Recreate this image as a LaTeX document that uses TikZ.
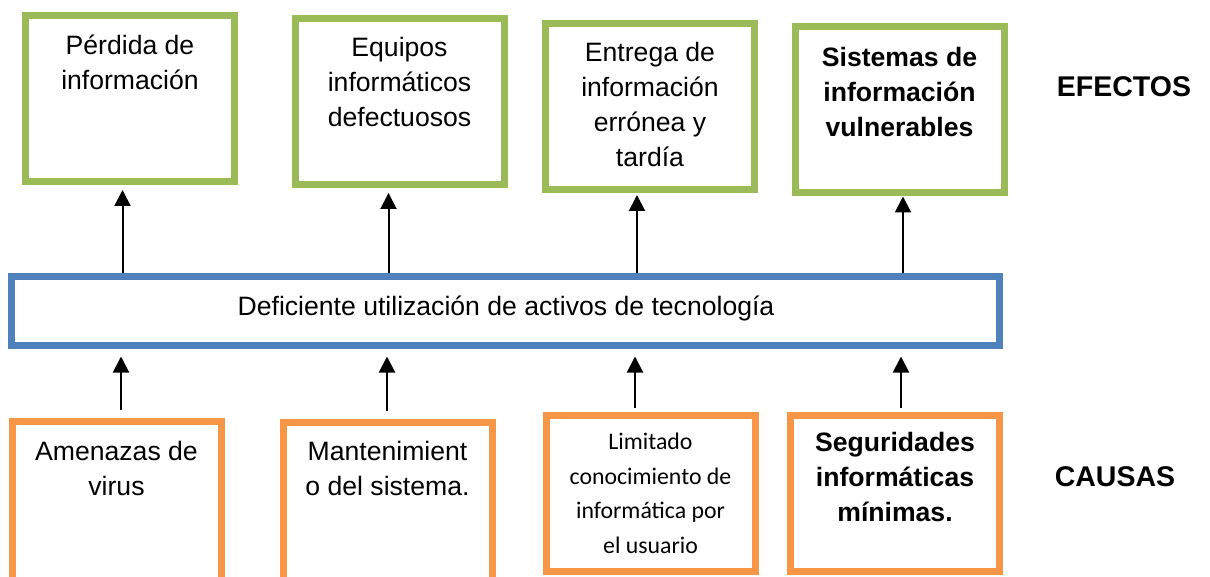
\documentclass[tikz,border=0pt]{standalone}
\usepackage{fontspec}
\setmainfont{Liberation Sans}
\newfontfamily\calibri{Carlito}
\usetikzlibrary{arrows.meta}
\usetikzlibrary{positioning}

\definecolor{efectogreen}{RGB}{155,187,89}
\definecolor{problemablue}{RGB}{79,129,189}
\definecolor{causaorange}{RGB}{247,150,70}

\tikzset{
	efecto/.style={draw=efectogreen, line width=3.5pt, minimum width=104.5pt, minimum height=83pt, inner sep=0pt},
	causa/.style={draw=causaorange, line width=3.5pt, minimum width=104.5pt, minimum height=78pt, inner sep=0pt},
	problema/.style={draw=problemablue, line width=3.5pt, minimum width=494pt, minimum height=34.5pt, inner sep=0pt},
	txt/.style={align=center, anchor=base, inner sep=0pt, font=\fontsize{13.3}{17.5}\selectfont},
	titulo/.style={anchor=base, inner sep=0pt, font=\fontsize{14.25}{17}\selectfont\bfseries},
	flecha/.style={-{Triangle[width=8pt,length=8pt]}, line width=1pt},
}

\begin{document}
\begin{tikzpicture}[x=0.5pt,y=-0.5pt]
\useasboundingbox (0,0) rectangle (1210,577);
\clip (0,0) rectangle (1210,577);

% efectos
\node[efecto] (e1) at (130,98.5) {};
\node[efecto] (e2) at (399.5,101.5) {};
\node[efecto] (e3) at (650,106.5) {};
\node[efecto] (e4) at (899.5,110) {};

% base = last line
\node[txt] (e1txt) at ([yshift=-39pt]e1.north) {Pérdida de\\información};
\node[txt] (e2txt) at ([yshift=-56pt]e2.north) {Equipos\\informáticos\\defectuosos};
\node[txt] (e3txt) at ([yshift=-73.5pt]e3.north) {Entrega de\\información\\errónea y\\tardía};
\node[txt, font=\fontsize{13.3}{17.5}\selectfont\bfseries] (e4txt) at ([yshift=-56.5pt]e4.north) {Sistemas de\\información\\vulnerables};

\node[titulo] (efectos) at (1124,96.5) {EFECTOS};

% problema central
\node[problema] (m) at (505.5,311) {};
\node[txt] (mtxt) at (506,315) {Deficiente utilización de activos de tecnología};

% causas
\node[causa, minimum height=85pt] (c1) at (116.5,506.5) {};
\node[causa, minimum height=85pt] (c2) at (387.5,507.5) {};
\node[causa] (c3) at (650.5,493.5) {};
\node[causa] (c4) at (895,493.5) {};

\node[txt] (c1txt) at ([yshift=-38.75pt]c1.north) {Amenazas de\\virus};
\node[txt] (c2txt) at ([yshift=-38.25pt]c2.north) {Mantenimient\\o del sistema.};
\node[txt, font=\calibri\fontsize{11.9}{17.2}\selectfont] (c3txt) at ([yshift=-70.5pt]c3.north) {Limitado\\conocimiento de\\informática por\\el usuario};
\node[txt, font=\fontsize{13.3}{17.5}\selectfont\bfseries] (c4txt) at ([yshift=-54.75pt]c4.north) {Seguridades\\informáticas\\mínimas.};

\node[titulo] (causas) at (1115,486.5) {CAUSAS};

% flechas causa -> problema
\draw[flecha, shorten <=4pt, shorten >=3.75pt] ([xshift=2.25pt]c1.north) -- ([xshift=2.25pt]c1.north |- m.south);
\draw[flecha, shorten <=4pt, shorten >=3.75pt] ([xshift=-0.25pt]c2.north) -- ([xshift=-0.25pt]c2.north |- m.south);
\draw[flecha, shorten <=2pt, shorten >=3.75pt] ([xshift=-7.75pt]c3.north) -- ([xshift=-7.75pt]c3.north |- m.south);
\draw[flecha, shorten <=2pt, shorten >=3.75pt] ([xshift=3pt]c4.north) -- ([xshift=3pt]c4.north |- m.south);

% flechas problema -> efecto
\draw[flecha, shorten >=2.5pt] ([xshift=-3.75pt]e1.south |- m.north) -- ([xshift=-3.75pt]e1.south);
\draw[flecha, shorten >=2.5pt] ([xshift=-5.5pt]e2.south |- m.north) -- ([xshift=-5.5pt]e2.south);
\draw[flecha, shorten >=1pt] ([xshift=-6.5pt]e3.south |- m.north) -- ([xshift=-6.5pt]e3.south);
\draw[flecha, shorten >=0pt] ([xshift=1.75pt]e4.south |- m.north) -- ([xshift=1.75pt]e4.south);

\end{tikzpicture}
\end{document}
